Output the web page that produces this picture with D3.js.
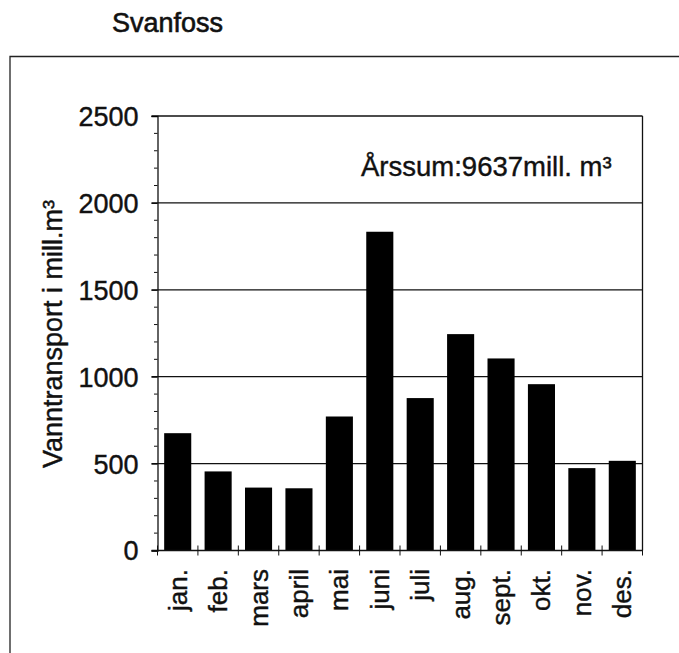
<!DOCTYPE html>
<html>
<head>
<meta charset="utf-8">
<script src="https://cdn.jsdelivr.net/npm/d3@7"></script>
<style>
  body { margin: 0; background: #fff; }
  text { font-family: "Liberation Sans", Arial, sans-serif; fill: #111; stroke: #111; stroke-width: 0.4px; }
</style>
</head>
<body>
<svg id="chart" width="679" height="653"></svg>
<script>
const months = ['jan.', 'feb.', 'mars', 'april', 'mai', 'juni', 'juli', 'aug.', 'sept.', 'okt.', 'nov.', 'des.'];
const transport = [675, 455, 362, 358, 771, 1834, 877, 1245, 1105, 957, 474, 516];
const yTicks = [0, 500, 1000, 1500, 2000, 2500];
const title = 'Svanfoss';
const note = 'Årssum:9637mill. m³';
const yLabel = 'Vanntransport i mill.m³';

const svg = d3.select('#chart');
const plot = { left: 157.5, right: 642.5, top: 116, bottom: 550.5 };
const fs = '27px';

// outer frame
svg.append('path')
  .attr('d', 'M10,653 L10,56.5 L679,56.5')
  .attr('fill', 'none')
  .attr('stroke', '#222')
  .attr('stroke-width', 1.3);

svg.append('text')
  .attr('x', 112).attr('y', 32)
  .style('font-size', fs)
  .style('stroke-width', '0.6px')
  .text(title);

const x = d3.scaleBand()
  .domain(months)
  .range([plot.left, plot.right])
  .paddingInner(0.33)
  .paddingOuter(0.165);

const y = d3.scaleLinear()
  .domain([0, 2500])
  .range([plot.bottom, plot.top]);

// gridlines
svg.append('g')
  .selectAll('line')
  .data(yTicks.filter(d => d > 0))
  .join('line')
  .attr('x1', plot.left - 6).attr('x2', plot.right)
  .attr('y1', d => y(d)).attr('y2', d => y(d))
  .attr('stroke', '#111')
  .attr('stroke-width', 1.3);

// minor ticks
svg.append('g')
  .selectAll('line')
  .data(d3.range(100, 2500, 100).filter(d => d % 500 !== 0))
  .join('line')
  .attr('x1', plot.left - 3.5).attr('x2', plot.left)
  .attr('y1', d => y(d)).attr('y2', d => y(d))
  .attr('stroke', '#111');

// bars
svg.append('g')
  .selectAll('rect')
  .data(transport)
  .join('rect')
  .attr('x', (d, i) => x(months[i]))
  .attr('y', d => y(d))
  .attr('width', x.bandwidth())
  .attr('height', d => y(0) - y(d))
  .attr('fill', '#000');

// frame right
svg.append('line')
  .attr('x1', plot.right).attr('x2', plot.right)
  .attr('y1', plot.top).attr('y2', plot.bottom)
  .attr('stroke', '#111').attr('stroke-width', 1.3);

const yAxis = svg.append('g')
  .attr('transform', `translate(${plot.left},0)`)
  .call(d3.axisLeft(y).tickValues(yTicks).tickFormat(d3.format('d')).tickSize(6).tickPadding(13));
yAxis.select('.domain').attr('stroke', '#111').attr('stroke-width', 1.3);
yAxis.selectAll('text').style('font-size', fs).attr('fill', '#111').attr('dy', '0.35em');

// x axis with ticks at band boundaries
const step = x.step();
const bounds = d3.range(months.length + 1).map(i => plot.left + i * step);
svg.append('line')
  .attr('x1', plot.left - 6).attr('x2', plot.right)
  .attr('y1', plot.bottom).attr('y2', plot.bottom)
  .attr('stroke', '#111').attr('stroke-width', 1.3);
svg.append('g')
  .selectAll('line')
  .data(bounds)
  .join('line')
  .attr('x1', d => d).attr('x2', d => d)
  .attr('y1', plot.bottom - 5).attr('y2', plot.bottom + 5)
  .attr('stroke', '#111');

svg.append('g')
  .selectAll('text')
  .data(months)
  .join('text')
  .attr('transform', d => `translate(${x(d) + x.bandwidth() / 2 + 9},569) rotate(-90)`)
  .attr('text-anchor', 'end')
  .style('font-size', '26px')
  .text(d => d);

svg.append('text')
  .attr('transform', `translate(62,334) rotate(-90)`)
  .attr('text-anchor', 'middle')
  .style('font-size', fs)
  .text(yLabel);

svg.append('text')
  .attr('x', 361).attr('y', 176)
  .style('font-size', '27.5px')
  .text(note);
</script>
</body>
</html>
